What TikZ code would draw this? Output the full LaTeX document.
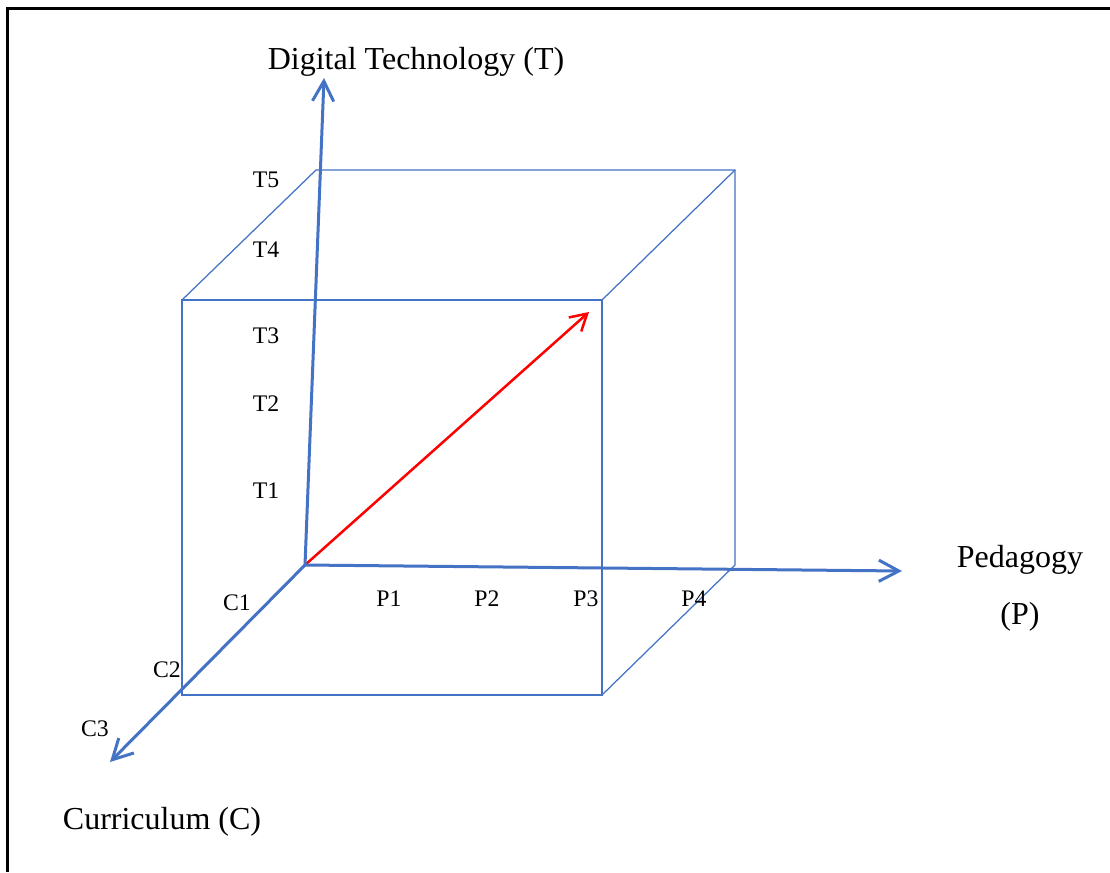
\documentclass[tikz,border=0pt]{standalone}
\usepackage{fontspec}
\setmainfont{Liberation Serif}
\usetikzlibrary{arrows.meta, positioning}
\definecolor{axisblue}{RGB}{68,114,196}

\begin{document}
\begin{tikzpicture}[x=0.4pt, y=-0.4pt,
        axis/.style={draw=axisblue, line width=1.2pt, -{Straight Barb[length=8pt, width=8.5pt]}},
        edge/.style={draw=axisblue, line width=0.5pt},
        path/.style={draw=red, line width=1pt, -{Straight Barb[length=6.5pt, width=7.5pt]}},
        tick/.style={font=\fontsize{9.5}{11}\selectfont, inner sep=1pt},
        title/.style={font=\fontsize{12.8}{15}\selectfont, inner sep=1pt}]
        \useasboundingbox (0,0) rectangle (1110,872);
        \draw[line width=1.2pt] (7,872) -- (7,9) -- (1110,9);
        % cube corners
        \coordinate (o) at (305,565);
        \coordinate (ftl) at (182,300);
        \coordinate (ftr) at (602,300);
        \coordinate (fbr) at (602,695);
        \coordinate (fbl) at (182,695);
        \coordinate (btl) at (316,170);
        \coordinate (btr) at (735,170);
        \coordinate (bbr) at (735,565);
        \coordinate (tend) at (324,78);
        \coordinate (pend) at (902,571);
        \coordinate (cend) at (110,762);
        \coordinate (goal) at (589,312);
        \draw[edge] (ftl) -- (ftr) -- (fbr) -- (fbl) -- cycle;
        \draw[edge] (ftl) -- (btl) -- (btr) -- (bbr) -- (fbr);
        \draw[edge] (ftr) -- (btr);
        \draw[path] (o) -- (goal);
        \foreach \e in {tend,pend,cend} \draw[axis] (o) -- (\e);
        % axis titles
        \node[title] (tt) at (416,62) {Digital Technology (T)};
        \node[title] (pt) at (1020,560) {Pedagogy};
        \node[title, below=0.8cm of pt.center, anchor=center] (pp) {(P)};
        \node[title] (ct) at (162,822) {Curriculum (C)};
        % ticks
        \node[tick] (t5) at (266,180) {T5};
        \node[tick] (t4) at (266,250) {T4};
        \node[tick] (t3) at (266,336) {T3};
        \node[tick] (t2) at (266,404) {T2};
        \node[tick] (t1) at (266,491) {T1};
        \node[tick] (p1) at (389,599) {P1};
        \node[tick] (p2) at (487,599) {P2};
        \node[tick] (p3) at (586,599) {P3};
        \node[tick] (p4) at (694,599) {P4};
        \node[tick] (c1) at (237,603) {C1};
        \node[tick] (c2) at (167,670) {C2};
        \node[tick] (c3) at (95,729) {C3};
    \end{tikzpicture}
\end{document}
